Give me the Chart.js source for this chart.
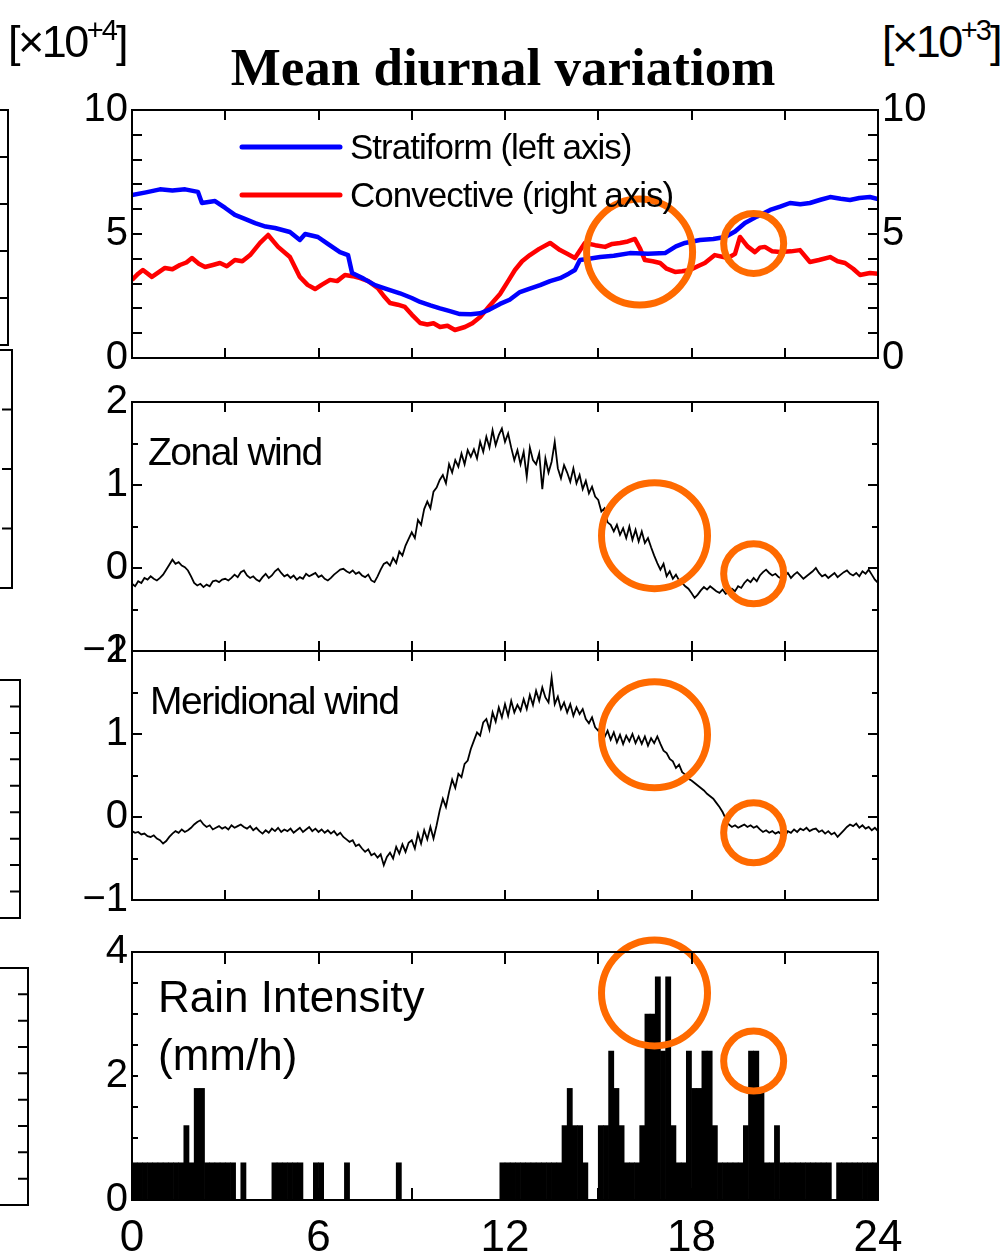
<!DOCTYPE html>
<html>
<head>
<meta charset="utf-8">
<script src="https://cdn.jsdelivr.net/npm/chart.js@4.4.1/dist/chart.umd.min.js"></script>
<style>
  body { margin: 0; background: #fff; width: 1000px; height: 1252px; overflow: hidden; position: relative; }
  canvas { position: absolute; left: 0; }
  .lbl { position: absolute; font-family: 'Liberation Sans', Arial, sans-serif; font-size: 45px; letter-spacing: -2.5px; white-space: nowrap; }
  .lbl sup { font-size: 29px; vertical-align: 17px; letter-spacing: -2px; }
  #title { position: absolute; left: 0; width: 1006px; top: 37px; text-align: center;
           font-family: 'Liberation Serif', 'Times New Roman', serif; font-weight: bold; font-size: 53px; }
</style>
</head>
<body>
<canvas id="bg" width="40" height="1252" style="top:0"></canvas>
<div class="lbl" style="left:8px;top:14px">[×10<sup>+4</sup>]</div>
<div class="lbl" style="left:882px;top:14px">[×10<sup>+3</sup>]</div>
<div id="title">Mean diurnal variatiom</div>
<canvas id="c1" width="1000" height="330" style="top:70px"></canvas>
<canvas id="c2" width="1000" height="330" style="top:362px"></canvas>
<canvas id="c3" width="1000" height="330" style="top:611px"></canvas>
<canvas id="c4" width="1000" height="340" style="top:912px"></canvas>
<script>
// ---- panel 1: precipitation area (hours, values) ----
const stratHours = [0, 0.45, 0.9, 1.3, 1.71, 2.12, 2.25, 2.67, 3.0, 3.31, 3.65, 3.96, 4.3, 4.6, 5.08, 5.4, 5.57, 5.98,
  6.3, 6.69, 6.95, 7.08, 7.45, 7.82, 8.2, 8.62, 9.0, 9.27, 9.6, 9.91, 10.2, 10.55, 10.9, 11.2, 11.5, 11.84, 12.15,
  12.48, 12.8, 13.13, 13.45, 13.77, 14.05, 14.25, 14.41, 14.7, 15.06, 15.5, 16.02, 16.6, 17.15, 17.5, 17.79, 18.27,
  18.7, 19.08, 19.4, 19.72, 20.1, 20.53, 20.85, 21.17, 21.5, 21.81, 22.15, 22.46, 22.8, 23.1, 23.4, 23.74, 24];
const stratVals = [6.57, 6.68, 6.8, 6.75, 6.8, 6.7, 6.25, 6.33, 6.05, 5.77, 5.6, 5.44, 5.3, 5.24, 5.08, 4.76, 5.0, 4.88,
  4.6, 4.27, 4.15, 3.43, 3.2, 2.94, 2.78, 2.61, 2.42, 2.26, 2.12, 2.0, 1.9, 1.77, 1.76, 1.8, 1.95, 2.18, 2.35,
  2.66, 2.8, 2.94, 3.1, 3.22, 3.4, 3.55, 3.95, 4.0, 4.07, 4.12, 4.23, 4.2, 4.23, 4.5, 4.64, 4.76, 4.8, 4.88, 5.1,
  5.44, 5.7, 5.97, 6.1, 6.25, 6.2, 6.25, 6.38, 6.49, 6.42, 6.37, 6.45, 6.49, 6.41];
const convHours = [0, 0.2, 0.35, 0.64, 0.85, 1.06, 1.3, 1.54, 1.75, 1.93, 2.15, 2.35, 2.6, 2.83, 3.05, 3.31, 3.55, 3.8,
  4.12, 4.38, 4.55, 4.7, 5.08, 5.4, 5.65, 5.89, 6.1, 6.37, 6.6, 6.85, 7.1, 7.34, 7.6, 7.91, 8.1, 8.3, 8.55, 8.78, 9.0,
  9.27, 9.5, 9.7, 9.91, 10.15, 10.39, 10.71, 10.95, 11.2, 11.5, 11.84, 12.1, 12.32, 12.55, 12.8, 13.1, 13.45, 13.77,
  14.0, 14.25, 14.57, 14.9, 15.22, 15.45, 15.7, 15.95, 16.18, 16.35, 16.5, 16.75, 16.99, 17.2, 17.47, 17.7, 17.95,
  18.2, 18.43, 18.75, 19.17, 19.4, 19.56, 19.8, 20.04, 20.2, 20.36, 20.6, 20.85, 21.2, 21.49, 21.81, 22.1, 22.46,
  22.7, 22.94, 23.2, 23.42, 23.74, 24];
const convVals = [3.15, 3.4, 3.55, 3.27, 3.45, 3.63, 3.58, 3.75, 3.85, 4.03, 3.8, 3.67, 3.75, 3.83, 3.7, 3.95, 3.9, 4.15,
  4.64, 4.96, 4.7, 4.48, 4.07, 3.27, 2.95, 2.78, 2.95, 3.15, 3.1, 3.35, 3.3, 3.22, 3.1, 2.82, 2.5, 2.22, 2.15, 2.06, 1.75,
  1.41, 1.35, 1.4, 1.25, 1.3, 1.13, 1.25, 1.4, 1.65, 2.1, 2.58, 3.1, 3.55, 3.9, 4.15, 4.4, 4.64, 4.35, 4.2, 4.03, 4.64,
  4.55, 4.48, 4.6, 4.64, 4.7, 4.8, 4.4, 3.95, 3.9, 3.83, 3.6, 3.47, 3.5, 3.55, 3.7, 3.83, 4.15, 4.03, 4.2, 4.88, 4.5,
  4.27, 4.45, 4.48, 4.3, 4.27, 4.3, 4.35, 3.87, 3.95, 4.07, 3.9, 3.83, 3.6, 3.35, 3.43, 3.4];

// ---- panels 2 and 3: wind, one value every 0.1 h from 0 to 24 ----
const zonalWind = [
  -0.19, -0.22, -0.16, -0.18, -0.12, -0.14, -0.10, -0.13, -0.15, -0.12,
  -0.08, -0.02, 0.04, 0.10, 0.05, 0.07, 0.03, 0.01, -0.03, -0.10,
  -0.18, -0.21, -0.19, -0.23, -0.20, -0.22, -0.16, -0.15, -0.17, -0.14,
  -0.13, -0.15, -0.12, -0.08, -0.11, -0.05, -0.03, -0.09, -0.12, -0.10,
  -0.14, -0.16, -0.11, -0.07, -0.12, -0.09, -0.04, -0.01, -0.06, -0.10,
  -0.08, -0.12, -0.09, -0.14, -0.11, -0.13, -0.07, -0.10, -0.08, -0.06,
  -0.11, -0.09, -0.13, -0.15, -0.12, -0.08, -0.05, -0.02, -0.01, -0.04,
  -0.06, -0.03, -0.07, -0.05, -0.09, -0.11, -0.08, -0.15, -0.17, -0.10,
  -0.02, 0.05, 0.07, 0.03, 0.12, 0.06, 0.20, 0.15, 0.27, 0.35,
  0.43, 0.36, 0.58, 0.52, 0.71, 0.80, 0.72, 0.92, 0.97, 1.06,
  1.12, 1.02, 1.25, 1.15, 1.30, 1.22, 1.38, 1.25, 1.42, 1.34,
  1.43, 1.32, 1.52, 1.40, 1.58, 1.45, 1.66, 1.48, 1.60, 1.68,
  1.52, 1.62, 1.45, 1.30, 1.42, 1.25, 1.40, 1.10, 1.45, 1.30,
  1.25, 1.38, 0.95, 1.32, 1.15, 1.28, 1.52, 1.20, 1.08, 1.24,
  1.15, 1.04, 1.20, 1.02, 1.12, 0.95, 1.05, 0.90, 0.98, 0.86,
  0.82, 0.68, 0.72, 0.55, 0.52, 0.44, 0.52, 0.40, 0.48, 0.36,
  0.50, 0.34, 0.46, 0.32, 0.44, 0.30, 0.36, 0.25, 0.15, 0.06,
  -0.02, 0.05, -0.10, -0.04, -0.13, -0.08, -0.15, -0.18, -0.22, -0.25,
  -0.30, -0.36, -0.32, -0.27, -0.23, -0.26, -0.22, -0.25, -0.28, -0.30,
  -0.26, -0.31, -0.29, -0.25, -0.28, -0.22, -0.24, -0.18, -0.14, -0.17,
  -0.12, -0.16, -0.09, -0.05, -0.02, -0.06, -0.09, -0.07, -0.11, -0.13,
  -0.10, -0.06, -0.12, -0.08, -0.05, -0.09, -0.13, -0.10, -0.07, -0.04,
  0.00, -0.06, -0.10, -0.08, -0.12, -0.09, -0.06, -0.11, -0.08, -0.05,
  -0.03, -0.07, -0.09, -0.06, -0.10, -0.04, -0.07, -0.02, -0.08, -0.14,
  -0.18];
const meridWind = [
  -0.17, -0.19, -0.18, -0.21, -0.20, -0.23, -0.24, -0.22, -0.26, -0.28,
  -0.32, -0.29, -0.24, -0.20, -0.17, -0.19, -0.15, -0.18, -0.16, -0.13,
  -0.09, -0.06, -0.04, -0.09, -0.12, -0.10, -0.15, -0.13, -0.11, -0.14,
  -0.12, -0.15, -0.10, -0.13, -0.11, -0.09, -0.12, -0.14, -0.11, -0.16,
  -0.13, -0.17, -0.20, -0.16, -0.19, -0.14, -0.17, -0.13, -0.18, -0.15,
  -0.17, -0.14, -0.19, -0.16, -0.13, -0.18, -0.15, -0.12, -0.17, -0.14,
  -0.18, -0.15, -0.19, -0.16, -0.20, -0.17, -0.22, -0.19, -0.24, -0.27,
  -0.30, -0.28, -0.35, -0.33, -0.38, -0.42, -0.39, -0.46, -0.44, -0.49,
  -0.45, -0.58, -0.48, -0.43, -0.50, -0.36, -0.44, -0.33, -0.42, -0.31,
  -0.28, -0.38, -0.20, -0.32, -0.16, -0.27, -0.12, -0.26, -0.10, 0.08,
  0.22, 0.12, 0.30, 0.45, 0.35, 0.52, 0.48, 0.64, 0.68, 0.82,
  0.92, 1.02, 0.98, 1.14, 1.18, 1.05, 1.26, 1.15, 1.32, 1.20,
  1.36, 1.22, 1.40, 1.26, 1.35, 1.28, 1.42, 1.30, 1.47, 1.35,
  1.52, 1.40, 1.56, 1.44, 1.38, 1.68, 1.36, 1.45, 1.30, 1.38,
  1.26, 1.36, 1.22, 1.32, 1.24, 1.30, 1.18, 1.13, 1.20, 1.08,
  1.04, 1.10, 0.96, 1.04, 0.93, 1.02, 0.90, 0.99, 0.88, 0.98,
  0.91, 1.00, 0.89, 0.97, 0.88, 0.97, 0.86, 0.95, 0.89, 0.97,
  0.88, 0.80, 0.77, 0.70, 0.67, 0.59, 0.63, 0.54, 0.51, 0.46,
  0.44, 0.41, 0.38, 0.35, 0.32, 0.28, 0.25, 0.22, 0.17, 0.12,
  0.06, -0.02, -0.09, -0.12, -0.10, -0.13, -0.11, -0.09, -0.12, -0.10,
  -0.13, -0.11, -0.15, -0.18, -0.16, -0.19, -0.17, -0.20, -0.18, -0.21,
  -0.24, -0.17, -0.19, -0.15, -0.18, -0.14, -0.16, -0.13, -0.17, -0.15,
  -0.14, -0.18, -0.16, -0.20, -0.17, -0.21, -0.19, -0.24, -0.20, -0.16,
  -0.12, -0.09, -0.11, -0.08, -0.13, -0.10, -0.14, -0.12, -0.16, -0.13,
  -0.17];
const windHours = zonalWind.map((_, i) => i / 10);

// ---- panel 4: rain intensity, 10-minute bins (mm/h) ----
const rainRate = [
  0.6, 0.6, 0.6, 0.6, 0.6, 0.6, 0.6, 0.6, 0.6, 0.6, 1.2, 0.6,
  1.8, 1.8, 0.6, 0.6, 0.6, 0.6, 0.6, 0.6, 0, 0.6, 0, 0,
  0, 0, 0, 0.6, 0.6, 0.6, 0.6, 0.6, 0.6, 0, 0, 0.6,
  0.6, 0, 0, 0, 0, 0.6, 0, 0, 0, 0, 0, 0,
  0, 0, 0, 0.6, 0, 0, 0, 0, 0, 0, 0, 0,
  0, 0, 0, 0, 0, 0, 0, 0, 0, 0, 0, 0.6,
  0.6, 0.6, 0.6, 0.6, 0.6, 0.6, 0.6, 0.6, 0.6, 0.6, 0.6, 1.2,
  1.8, 1.2, 1.2, 0.6, 0, 0, 1.2, 1.2, 2.4, 1.8, 1.2, 0.6,
  0.6, 0.6, 1.2, 3.0, 3.0, 3.6, 2.4, 3.6, 1.2, 0.6, 0.6, 2.4,
  1.8, 1.8, 2.4, 2.4, 1.2, 0.6, 0.6, 0.6, 0.6, 0.6, 1.2, 2.4,
  2.4, 1.8, 0.6, 0.6, 1.2, 0.6, 0.6, 0.6, 0.6, 0.6, 0.6, 0.6,
  0.6, 0.6, 0.6, 0, 0.6, 0.6, 0.6, 0.6, 0.6, 0.6, 0.6, 0.6];
const rainHours = rainRate.map((_, i) => (i + 0.5) / 6);

// ---- highlighted periods (orange circles): hour, value per panel ----
const circleHours = [[16.33, 20.0], [16.81, 20.0], [16.81, 20.0], [16.81, 20.0]];
const circleVals = [[4.27, 4.62], [0.39, -0.07], [0.99, -0.19], [3.34, 2.24]];

const xTickLabels = [0, 6, 12, 18, 24];

// ---------------------------------------------------------------
const ORANGE = '#ff6a00';
const circleSize = [53, 30];
function circles(p) {
  return {
    type: 'bubble', yAxisID: 'y', clip: false, order: -1,
    data: circleHours[p].map((h, i) => ({ x: h, y: circleVals[p][i], r: circleSize[i] })),
    borderColor: ORANGE, backgroundColor: 'rgba(0,0,0,0)', borderWidth: 7, hoverRadius: 0
  };
}
const pts = (xs, ys) => xs.map((x, i) => ({ x, y: ys[i] }));
const minus = v => v < 0 ? '\u2212' + Math.abs(v) : String(v);
const tickFont = { family: "'Liberation Sans', Arial, sans-serif", size: 40 };

const frameTicks = {
  id: 'frameTicks',
  afterDraw(chart, args, o) {
    const { ctx, chartArea: a } = chart;
    const xs = chart.scales.x, ys = chart.scales.y;
    ctx.save();
    ctx.strokeStyle = '#000';
    ctx.lineWidth = 2;
    ctx.beginPath();
    const nx = Math.round((xs.max - xs.min) / o.xStep);
    for (let i = 0; i <= nx; i++) {
      const px = Math.round(xs.getPixelForValue(xs.min + i * o.xStep));
      ctx.moveTo(px, a.top); ctx.lineTo(px, a.top + o.xLen);
      ctx.moveTo(px, a.bottom); ctx.lineTo(px, a.bottom - o.xLen);
    }
    const ny = Math.round((ys.max - ys.min) / o.yStep);
    for (let i = 0; i <= ny; i++) {
      const v = ys.min + i * o.yStep;
      const py = Math.round(ys.getPixelForValue(v));
      const r = v / o.yMajorStep;
      const len = Math.abs(r - Math.round(r)) < 1e-6 ? o.yMajor : o.yMinor;
      ctx.moveTo(a.left, py); ctx.lineTo(a.left + len, py);
      ctx.moveTo(a.right, py); ctx.lineTo(a.right - len, py);
    }
    ctx.stroke();
    ctx.strokeRect(a.left, a.top, a.right - a.left, a.bottom - a.top);
    ctx.restore();
  }
};

const panelText = {
  id: 'panelText',
  afterDraw(chart, args, o) {
    const { ctx, chartArea: a } = chart;
    ctx.save();
    ctx.fillStyle = '#000';
    (o.items || []).forEach(it => {
      ctx.font = it.font;
      ctx.letterSpacing = it.ls || '0px';
      ctx.fillText(it.text, a.left + it.dx, a.top + it.dy);
    });
    if (o.legend) {
      const L = o.legend;
      chart.data.datasets.filter(d => d.type !== 'bubble').forEach((d, k) => {
        const y = a.top + L.dy + k * L.gap;
        ctx.strokeStyle = d.borderColor;
        ctx.lineWidth = 5;
        ctx.lineCap = 'round';
        ctx.beginPath(); ctx.moveTo(a.left + L.dx, y); ctx.lineTo(a.left + L.dx + L.len, y); ctx.stroke();
        ctx.font = L.font;
        ctx.letterSpacing = L.ls;
        ctx.fillText(d.label, a.left + L.dx + L.len + 10, y + 12);
      });
    }
    ctx.restore();
  }
};
Chart.register(frameTicks, panelText);

// fixed axis sizes, no extra room for label overhang
function fixW(w) {
  return s => { s.width = w; s.paddingTop = 0; s.paddingBottom = 0; };
}
function leftAxis(min, max, step) {
  return {
    position: 'left', min, max,
    afterFit: fixW(132),
    grid: { display: false, drawTicks: false }, border: { display: false },
    ticks: { stepSize: step, font: tickFont, color: '#000', padding: 4, callback: minus }
  };
}
const hiddenX = { type: 'linear', min: 0, max: 24, display: false };

function panel(id, datasets, y, extra) {
  const scales = Object.assign({ x: hiddenX, y }, extra.scales || {});
  return new Chart(document.getElementById(id), {
    type: 'line',
    data: { datasets },
    options: {
      responsive: false, animation: false, events: [],
      layout: { padding: extra.padding, autoPadding: false },
      scales,
      plugins: {
        legend: { display: false }, tooltip: { enabled: false },
        frameTicks: extra.ticks, panelText: extra.text
      }
    }
  });
}

// panel 1
panel('c1', [
  { label: 'Stratiform (left axis)', data: pts(stratHours, stratVals), borderColor: '#0000ff', borderWidth: 4.5,
    pointRadius: 0, yAxisID: 'y', borderJoinStyle: 'round' },
  { label: 'Convective (right axis)', data: pts(convHours, convVals), borderColor: '#ff0000', borderWidth: 4.5,
    pointRadius: 0, yAxisID: 'y2', borderJoinStyle: 'round' },
  circles(0)
], leftAxis(0, 10, 5), {
  padding: { top: 40, bottom: 42, left: 0, right: 0 },
  scales: {
    y2: {
      position: 'right', min: 0, max: 10,
      afterFit: fixW(122),
      grid: { display: false, drawTicks: false }, border: { display: false },
      ticks: { stepSize: 5, font: tickFont, color: '#000', padding: 4 }
    }
  },
  ticks: { xStep: 3, xLen: 10, yStep: 1, yMajorStep: 1, yMajor: 10, yMinor: 10 },
  text: { legend: { dx: 110, dy: 37, gap: 48, len: 98, font: "35px 'Liberation Sans', Arial", ls: '-1px' } }
});

// panel 2
panel('c2', [
  { data: pts(windHours, zonalWind), borderColor: '#000', borderWidth: 1.8, pointRadius: 0 },
  circles(1)
], leftAxis(-1, 2, 1), {
  padding: { top: 40, bottom: 41, left: 0, right: 122 },
  ticks: { xStep: 3, xLen: 10, yStep: 0.5, yMajorStep: 1, yMajor: 10, yMinor: 6 },
  text: { items: [{ text: 'Zonal wind', dx: 16, dy: 63, font: "39px 'Liberation Sans', Arial", ls: '-1.5px' }] }
});

// panel 3
panel('c3', [
  { data: pts(windHours, meridWind), borderColor: '#000', borderWidth: 1.8, pointRadius: 0 },
  circles(2)
], leftAxis(-1, 2, 1), {
  padding: { top: 40, bottom: 41, left: 0, right: 122 },
  ticks: { xStep: 3, xLen: 10, yStep: 0.5, yMajorStep: 1, yMajor: 10, yMinor: 6 },
  text: { items: [{ text: 'Meridional wind', dx: 18, dy: 63, font: "39px 'Liberation Sans', Arial", ls: '-1.5px' }] }
});

// panel 4
new Chart(document.getElementById('c4'), {
  type: 'bar',
  data: {
    datasets: [
      { data: pts(rainHours, rainRate), backgroundColor: '#000', borderWidth: 0,
        barPercentage: 1, categoryPercentage: 1, grouped: false },
      circles(3)
    ]
  },
  options: {
    responsive: false, animation: false, events: [],
    layout: { padding: { top: 40, bottom: 0, left: 0, right: 122 }, autoPadding: false },
    scales: {
      x: {
        type: 'linear', min: 0, max: 24, offset: false,
        afterFit: s => { s.height = 52; s.paddingLeft = 0; s.paddingRight = 0; },
        grid: { display: false, drawTicks: false, offset: false }, border: { display: false },
        ticks: {
          stepSize: 3, autoSkip: false, maxRotation: 0, padding: 12, color: '#000',
          font: { family: "'Liberation Sans', Arial, sans-serif", size: 44 },
          callback: v => xTickLabels.includes(v) ? String(v) : ''
        }
      },
      y: leftAxis(0, 4, 2)
    },
    plugins: {
      legend: { display: false }, tooltip: { enabled: false },
      frameTicks: { xStep: 3, xLen: 12, yStep: 0.5, yMajorStep: 0.5, yMajor: 6, yMinor: 6 },
      panelText: { items: [
        { text: 'Rain Intensity', dx: 26, dy: 60, font: "44px 'Liberation Sans', Arial" },
        { text: '(mm/h)', dx: 26, dy: 118, font: "44px 'Liberation Sans', Arial" }
      ] }
    }
  }
});

// fragments of the neighbouring figure at the left edge
(function () {
  const ctx = document.getElementById('bg').getContext('2d');
  ctx.strokeStyle = '#000';
  ctx.lineWidth = 2;
  [[8, 110, 345, 5], [12, 350, 588, 4], [20, 680, 918, 9], [28, 968, 1205, 9]].forEach(([x, t, b, n]) => {
    ctx.beginPath();
    ctx.moveTo(0, t); ctx.lineTo(x, t); ctx.lineTo(x, b); ctx.lineTo(0, b);
    for (let i = 1; i < n; i++) {
      const y = t + (b - t) * i / n;
      ctx.moveTo(x, y); ctx.lineTo(x - 10, y);
    }
    ctx.stroke();
  });
})();
</script>
</body>
</html>
